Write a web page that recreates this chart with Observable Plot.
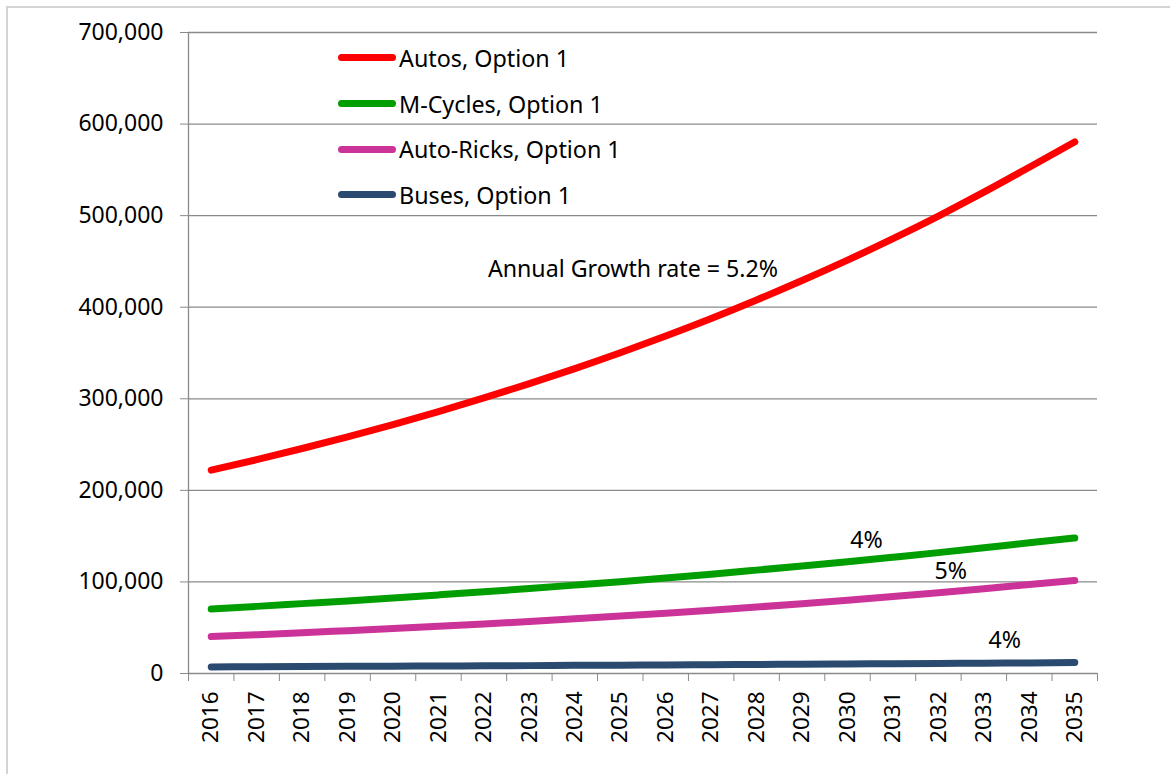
<!DOCTYPE html>
<html>
<head>
<meta charset="utf-8">
<script src="https://cdn.jsdelivr.net/npm/d3@7"></script>
<script src="https://cdn.jsdelivr.net/npm/@observablehq/plot@0.6"></script>
<style>
  html, body { margin: 0; padding: 0; background: #fff; }
  #wrap { position: relative; width: 1170px; height: 774px; overflow: hidden; font-family: "Noto Sans", sans-serif; }
  #borderL { position: absolute; left: 6px; top: 6px; width: 2px; height: 800px; background: #d4d4d4; }
  #borderT { position: absolute; left: 6px; top: 6px; width: 1170px; height: 2px; background: #d4d4d4; }
  #legend { position: absolute; left: 338px; top: 35px; }
  .row { display: flex; align-items: center; height: 45.7px; }
  .swatch { width: 58px; height: 7px; border-radius: 4px; margin-right: 3px; }
  .lab { font-size: 23.3px; color: #000; white-space: nowrap; }
</style>
</head>
<body>
<div id="wrap">
  <div id="borderL"></div>
  <div id="borderT"></div>
  <div id="chart"></div>
  <div id="legend"></div>
</div>
<script>
const years = [2016,2017,2018,2019,2020,2021,2022,2023,2024,2025,2026,2027,2028,2029,2030,2031,2032,2033,2034,2035];
const seriesNames = ["Autos, Option 1", "M-Cycles, Option 1", "Auto-Ricks, Option 1", "Buses, Option 1"];
const seriesColors = ["#ff0000", "#009e00", "#cc3399", "#2a4a6f"];
const autos = [222000,233500,245700,258500,271900,286100,300900,316600,333000,350300,368600,387700,407900,429100,451400,474900,499600,525600,552900,580500];
const mcycles = [70500,73300,76300,79300,82500,85800,89200,92800,96500,100300,104400,108500,112900,117400,122100,127000,132000,137300,142800,148000];
const autoRicks = [40400,42400,44500,46800,49100,51600,54100,56800,59700,62700,65800,69100,72600,76200,80000,84000,88200,92600,97200,101500];
const buses = [7200,7400,7600,7800,8000,8200,8400,8600,8900,9100,9400,9600,9900,10100,10400,10700,11000,11300,11600,12000];
const yTicks = [0,100000,200000,300000,400000,500000,600000,700000];
const noteText = ["Annual Growth rate = 5.2%", "4%", "5%", "4%"];
const noteYear = [2025.28, 2030.42, 2032.27, 2033.46];
const noteValue = [441000, 145400, 110800, 35500];

const allSeries = [autos, mcycles, autoRicks, buses];
const data = [];
allSeries.forEach((vals, si) => vals.forEach((v, i) => data.push({series: seriesNames[si], year: years[i], value: v})));
const notes = noteText.map((t, i) => ({text: t, year: noteYear[i], value: noteValue[i]}));
const bounds = years.map(y => y - 0.5).concat([years[years.length - 1] + 0.5]);

const chart = Plot.plot({
  width: 1170,
  height: 774,
  marginLeft: 188,
  marginRight: 73,
  marginTop: 32,
  marginBottom: 101,
  style: {fontFamily: "Noto Sans, sans-serif", fontSize: "23px", color: "#000", background: "transparent"},
  x: {type: "linear", domain: [bounds[0], bounds[bounds.length - 1]], axis: null},
  y: {domain: [0, 700000], axis: null},
  color: {domain: seriesNames, range: seriesColors},
  marks: [
    Plot.gridY(yTicks.slice(1), {stroke: "#8a8a8a", strokeOpacity: 1, strokeWidth: 1.3}),
    Plot.axisY(yTicks, {tickSize: 8, tickPadding: 17, tickFormat: d3.format(","), stroke: "#8a8a8a", fontSize: 23, label: null}),
    Plot.ruleX([bounds[0]], {y1: 0, y2: 700000, stroke: "#8a8a8a", strokeWidth: 1.3}),
    Plot.ruleY([0], {stroke: "#8a8a8a", strokeWidth: 1.3}),
    Plot.axisX(bounds, {tickSize: 8, tickFormat: () => "", stroke: "#8a8a8a", label: null}),
    Plot.axisX(years, {tickSize: 0, tickPadding: 18, tickRotate: -90, tickFormat: d => String(d), fontSize: 22.5, label: null}),
    Plot.line(data, {x: "year", y: "value", z: "series", stroke: "series", strokeWidth: 7, strokeLinecap: "round", strokeLinejoin: "round", curve: "monotone-x"}),
    Plot.text(notes, {x: "year", y: "value", text: "text", fontSize: 23.2, fill: "#000"})
  ]
});
document.getElementById("chart").appendChild(chart);

const legend = document.getElementById("legend");
seriesNames.forEach((name, i) => {
  const row = document.createElement("div");
  row.className = "row";
  const sw = document.createElement("div");
  sw.className = "swatch";
  sw.style.background = seriesColors[i];
  const lab = document.createElement("span");
  lab.className = "lab";
  lab.textContent = name;
  row.appendChild(sw);
  row.appendChild(lab);
  legend.appendChild(row);
});
</script>
</body>
</html>
